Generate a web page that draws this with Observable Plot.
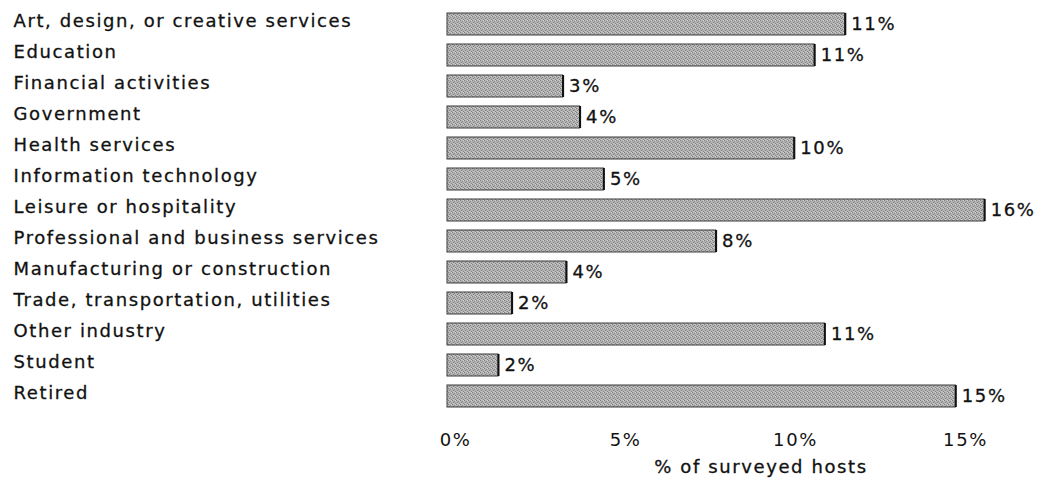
<!DOCTYPE html>
<html>
<head>
<meta charset="utf-8">
<script src="https://cdn.jsdelivr.net/npm/d3@7"></script>
<script src="https://cdn.jsdelivr.net/npm/@observablehq/plot@0.6"></script>
<style>
  html, body { margin: 0; padding: 0; background: #fff; }
  #chart { width: 1046px; height: 455px; }
  #chart svg { display: block; }
  #xtitle {
    width: 1046px; box-sizing: border-box; padding-left: 476px;
    text-align: center; font-family: "DejaVu Sans", sans-serif; font-size: 18px;
    letter-spacing: 1.6px; line-height: 24px; color: #111;
    -webkit-text-stroke: 0.3px #111;
  }
</style>
</head>
<body>
<div id="chart"></div>
<div id="xtitle">% of surveyed hosts</div>
<script>
const categories = [
  "Art, design, or creative services",
  "Education",
  "Financial activities",
  "Government",
  "Health services",
  "Information technology",
  "Leisure or hospitality",
  "Professional and business services",
  "Manufacturing or construction",
  "Trade, transportation, utilities",
  "Other industry",
  "Student",
  "Retired"
];
const values = [11.7, 10.8, 3.4, 3.9, 10.2, 4.6, 15.8, 7.9, 3.5, 1.9, 11.1, 1.5, 14.95];
const valueLabels = ["11%", "11%", "3%", "4%", "10%", "5%", "16%", "8%", "4%", "2%", "11%", "2%", "15%"];
const xTicks = [0, 5, 10, 15];
const xTickLabels = ["0%", "5%", "10%", "15%"];

const data = categories.map((c, i) => ({category: c, value: values[i], label: valueLabels[i]}));
const font = "'DejaVu Sans', sans-serif";

// dithered grey texture used as the bar fill
function ditherDefs() {
  const ns = "http://www.w3.org/2000/svg";
  const defs = document.createElementNS(ns, "defs");
  const pat = document.createElementNS(ns, "pattern");
  pat.setAttribute("id", "dither");
  pat.setAttribute("width", "4");
  pat.setAttribute("height", "4");
  pat.setAttribute("patternUnits", "userSpaceOnUse");
  const bg = document.createElementNS(ns, "rect");
  bg.setAttribute("width", "4"); bg.setAttribute("height", "4"); bg.setAttribute("fill", "#b4b4b4");
  pat.appendChild(bg);
  [[0,0,"#7e7e7e"],[2,1,"#8a8a8a"],[1,2,"#7a7a7a"],[3,3,"#858585"],[3,0,"#d0d0d0"],[1,3,"#cccccc"]].forEach(([x,y,c]) => {
    const r = document.createElementNS(ns, "rect");
    r.setAttribute("x", x); r.setAttribute("y", y);
    r.setAttribute("width", "1"); r.setAttribute("height", "1"); r.setAttribute("fill", c);
    pat.appendChild(r);
  });
  defs.appendChild(pat);
  return defs;
}

const chart = Plot.plot({
  width: 1046,
  height: 455,
  marginLeft: 447,
  marginRight: 21,
  marginTop: 0,
  marginBottom: 35,
  style: {fontFamily: font, fontSize: "18px", letterSpacing: "1.6px", color: "#111", background: "#fff"},
  x: {domain: [0, 17]},
  y: {domain: categories, padding: 0.3, axis: null},
  marks: [
    () => ditherDefs(),
    Plot.barX(data, {x: "value", y: "category", fill: "url(#dither)", stroke: "#3a3a3a", strokeWidth: 1}),
    Plot.tickX(data, {x: "value", y: "category", stroke: "#111", strokeWidth: 2}),
    Plot.text(data, {x: "value", y: "category", text: "label", textAnchor: "start", dx: 6, fill: "#111", stroke: "#111", strokeWidth: 0.3}),
    Plot.text(data, {y: "category", text: "category", frameAnchor: "left", textAnchor: "start", dx: -434, dy: -3, fill: "#111", stroke: "#111", strokeWidth: 0.3}),
    Plot.axisX({ticks: xTicks, tickFormat: (d) => xTickLabels[xTicks.indexOf(d)], tickSize: 0, tickPadding: 13, label: null, dx: 8, fill: "#111", stroke: "#111", strokeWidth: 0.3})
  ]
});
document.getElementById("chart").appendChild(chart);
</script>
</body>
</html>
